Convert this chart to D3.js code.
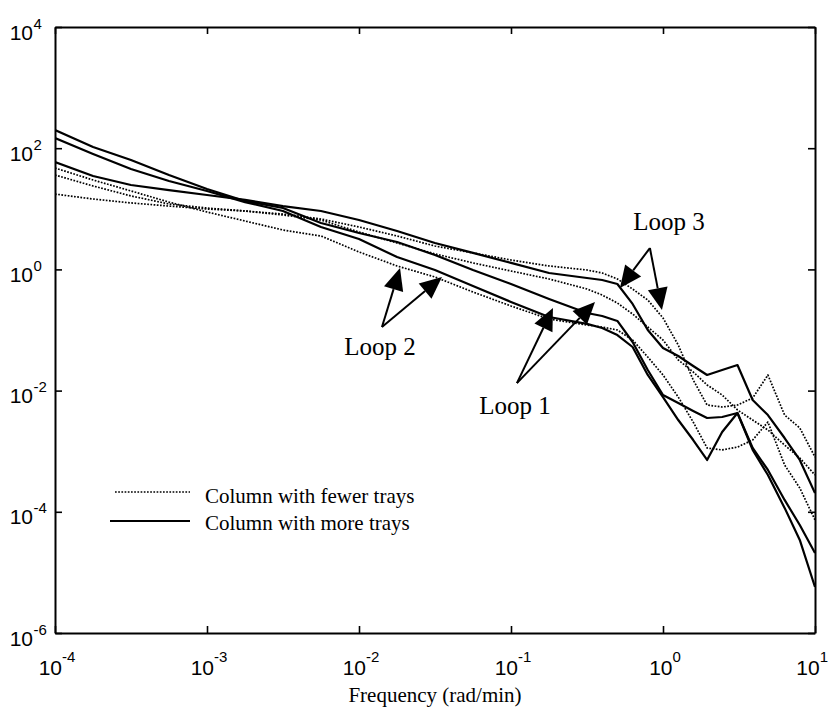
<!DOCTYPE html>
<html>
<head>
<meta charset="utf-8">
<script src="https://cdn.jsdelivr.net/npm/d3@7/dist/d3.min.js"></script>
<style>
  body { margin: 0; background: #fff; }
  svg { display: block; }
</style>
</head>
<body>
<svg id="chart" width="829" height="707"></svg>
<script>
// Frequency grid (rad/min) shared by all six spectra
const frequency = [1e-4, 1.78e-4, 3.16e-4, 5.62e-4, 1e-3, 1.78e-3, 3.16e-3, 5.62e-3,
  0.01, 0.0178, 0.0316, 0.0562, 0.1, 0.178, 0.316, 0.398, 0.501, 0.631, 0.794,
  1, 1.26, 1.58, 1.95, 2.45, 3.09, 3.89, 4.90, 6.31, 7.94, 10];

// Column with more trays (solid)
const loop1More = [200, 105, 64, 36.1, 21.2, 13.4, 10.3, 5.83, 3.99, 2.83, 1.73, 0.977,
  0.574, 0.325, 0.191, 0.170, 0.141, 0.0634, 0.0219, 0.00846, 0.00624, 0.00461,
  0.00353, 0.00367, 0.00427, 0.00113, 0.00049, 0.000157, 6.05e-5, 2.09e-5];
const loop2More = [147, 80.2, 45.4, 28.8, 19.7, 12.9, 9.20, 5.01, 3.18, 1.60, 0.977, 0.532,
  0.290, 0.164, 0.126, 0.108, 0.0826, 0.0524, 0.0181, 0.00783, 0.00327, 0.00153,
  0.000716, 0.00207, 0.00427, 0.00105, 0.000405, 0.000116, 3.43e-5, 5.74e-6];
const loop3More = [59.2, 34.8, 24.7, 20.4, 16.9, 14.0, 11.1, 9.20, 6.53, 4.30, 2.73, 1.87,
  1.28, 0.873, 0.721, 0.668, 0.574, 0.269, 0.100, 0.0505, 0.0372, 0.0255,
  0.0181, 0.0219, 0.0264, 0.00700, 0.00395, 0.00165, 0.000716, 0.000204];

// Column with fewer trays (dotted)
const loop1Fewer = [36.1, 23.8, 16.3, 12.0, 10.3, 9.20, 7.91, 6.53, 4.14, 2.73, 1.80, 1.28,
  0.941, 0.695, 0.475, 0.378, 0.279, 0.184, 0.112, 0.0684, 0.0320, 0.0203,
  0.0124, 0.00846, 0.00479, 0.00327, 0.00224, 0.00126, 0.000773, 0.000405];
const loop2Fewer = [47.1, 29.9, 19.7, 12.9, 8.85, 6.29, 4.47, 3.56, 1.94, 1.14, 0.750, 0.424,
  0.249, 0.152, 0.121, 0.112, 0.100, 0.0684, 0.0358, 0.0181, 0.00783, 0.00303,
  0.00113, 0.00105, 0.00117, 0.00153, 0.00303, 0.000592, 0.000247, 7.33e-5];
const loop3Fewer = [17.5, 14.5, 12.5, 11.1, 9.93, 9.20, 8.20, 6.79, 5.01, 3.56, 2.43, 1.87,
  1.43, 1.14, 0.977, 0.873, 0.695, 0.475, 0.313, 0.158, 0.0565, 0.0150,
  0.00578, 0.00536, 0.00578, 0.00755, 0.0181, 0.00395, 0.00242, 0.000802];

const xTickExponents = [-4, -3, -2, -1, 0, 1];
const yTickExponents = [4, 2, 0, -2, -4, -6];
const legendLabels = ["Column with fewer trays", "Column with more trays"];
const xAxisTitle = "Frequency (rad/min)";

// Loop call-outs: label anchor, arrow fan point, arrow tips (frequency, magnitude)
const loopNotes = [
  { label: "Loop 2", at: [0.01374, 0.0387], apex: [0.01416, 0.112],
    tips: [[0.01862, 1.05], [0.03516, 0.75]] },
  { label: "Loop 1", at: [0.1062, 0.00411], apex: [0.1094, 0.0133],
    tips: [[0.1888, 0.231], [0.357, 0.290]] },
  { label: "Loop 3", at: [1.094, 4.47], apex: [0.820, 2.25],
    tips: [[0.521, 0.493], [0.984, 0.214]] }
];

const series = [
  { values: loop3Fewer, style: "fewer" },
  { values: loop1Fewer, style: "fewer" },
  { values: loop2Fewer, style: "fewer" },
  { values: loop3More, style: "more" },
  { values: loop1More, style: "more" },
  { values: loop2More, style: "more" }
];

const W = 829, H = 707;
const plot = { left: 55, right: 815, top: 27, bottom: 633 };
const sansFont = "'Liberation Sans', Arial, Helvetica, sans-serif";
const serifFont = "'Liberation Serif', 'Times New Roman', Times, serif";

const svg = d3.select("#chart");
svg.append("rect").attr("width", W).attr("height", H).attr("fill", "#fff");

const x = d3.scaleLog().domain([1e-4, 10]).range([plot.left, plot.right]);
const y = d3.scaleLog().domain([1e-6, 1e4]).range([plot.bottom, plot.top]);

svg.append("clipPath").attr("id", "plot-clip")
  .append("rect")
  .attr("x", plot.left).attr("y", plot.top)
  .attr("width", plot.right - plot.left).attr("height", plot.bottom - plot.top);

// Spectra
const line = d3.line()
  .x((d, i) => x(frequency[i]))
  .y(d => y(d));

const curves = svg.append("g").attr("clip-path", "url(#plot-clip)");
curves.selectAll("path")
  .data(series)
  .join("path")
  .attr("d", d => line(d.values))
  .attr("fill", "none")
  .attr("stroke", "#000")
  .attr("stroke-linejoin", "round")
  .attr("stroke-width", d => d.style === "more" ? 2.2 : 1.7)
  .attr("stroke-dasharray", d => d.style === "more" ? null : "1.7,1.5");

// Axes: inward ticks on all four sides
const xTicks = xTickExponents.map(e => Math.pow(10, e));
const yTicks = yTickExponents.map(e => Math.pow(10, e));
const tickLen = 7;

function styleAxis(g) {
  g.selectAll(".domain").attr("stroke", "#000").attr("stroke-width", 2);
  g.selectAll(".tick line").attr("stroke", "#000").attr("stroke-width", 1.6);
  g.selectAll(".tick text").remove();
}

svg.append("g").attr("transform", `translate(0,${plot.bottom})`)
  .call(d3.axisBottom(x).tickValues(xTicks).tickSizeInner(-tickLen).tickSizeOuter(0).tickFormat(() => ""))
  .call(styleAxis);
svg.append("g").attr("transform", `translate(0,${plot.top})`)
  .call(d3.axisTop(x).tickValues(xTicks).tickSizeInner(-tickLen).tickSizeOuter(0).tickFormat(() => ""))
  .call(styleAxis);
svg.append("g").attr("transform", `translate(${plot.left},0)`)
  .call(d3.axisLeft(y).tickValues(yTicks).tickSizeInner(-tickLen).tickSizeOuter(0).tickFormat(() => ""))
  .call(styleAxis);
svg.append("g").attr("transform", `translate(${plot.right},0)`)
  .call(d3.axisRight(y).tickValues(yTicks).tickSizeInner(-tickLen).tickSizeOuter(0).tickFormat(() => ""))
  .call(styleAxis);

// Tick labels written as powers of ten
const xLabels = svg.append("g").attr("font-family", sansFont).attr("fill", "#000");
xTickExponents.forEach(e => {
  const t = xLabels.append("text")
    .attr("x", x(Math.pow(10, e)) + 2)
    .attr("y", plot.bottom + 42)
    .attr("text-anchor", "middle");
  t.append("tspan").attr("font-size", 21).text("10");
  t.append("tspan").attr("font-size", 15).attr("dy", -13).text(String(e));
  // keep the last label inside the page
  const box = t.node().getBBox();
  if (box.x + box.width > W - 1) {
    t.attr("text-anchor", "end").attr("x", W - 1);
  }
});

const yLabels = svg.append("g").attr("font-family", sansFont).attr("fill", "#000");
yTickExponents.forEach(e => {
  const ty = y(Math.pow(10, e));
  yLabels.append("text")
    .attr("x", 33).attr("y", ty + 12.5)
    .attr("text-anchor", "end").attr("font-size", 21).text("10");
  yLabels.append("text")
    .attr("x", 33.5).attr("y", ty + 1.5)
    .attr("text-anchor", "start").attr("font-size", 15).text(String(e));
});

// Axis title
svg.append("text")
  .attr("x", (plot.left + plot.right) / 2)
  .attr("y", 702)
  .attr("text-anchor", "middle")
  .attr("font-family", serifFont)
  .attr("font-size", 21)
  .text(xAxisTitle);

// Legend
const legend = svg.append("g");
const legendRows = [
  { y: 492, x0: 115, dash: "1.7,1.5", width: 1.7, textY: 503 },
  { y: 521, x0: 110, dash: null, width: 2.2, textY: 530 }
];
legendRows.forEach((r, i) => {
  legend.append("line")
    .attr("x1", r.x0).attr("x2", 190).attr("y1", r.y).attr("y2", r.y)
    .attr("stroke", "#000").attr("stroke-width", r.width)
    .attr("stroke-dasharray", r.dash);
  legend.append("text")
    .attr("x", 205).attr("y", r.textY)
    .attr("font-family", serifFont).attr("font-size", 21)
    .text(legendLabels[i]);
});

// Loop call-outs with filled arrowheads
const notes = svg.append("g");
const headLen = 22, headHalf = 10;
loopNotes.forEach(n => {
  const ax = x(n.apex[0]), ay = y(n.apex[1]);
  n.tips.forEach(tp => {
    const tx = x(tp[0]), ty = y(tp[1]);
    const dx = tx - ax, dy = ty - ay, len = Math.hypot(dx, dy);
    const ux = dx / len, uy = dy / len;
    const bx = tx - ux * headLen, by = ty - uy * headLen;
    notes.append("line")
      .attr("x1", ax).attr("y1", ay).attr("x2", bx).attr("y2", by)
      .attr("stroke", "#000").attr("stroke-width", 2);
    notes.append("polygon")
      .attr("points", [
        [tx, ty],
        [bx - uy * headHalf, by + ux * headHalf],
        [bx + uy * headHalf, by - ux * headHalf]
      ].map(p => p.join(",")).join(" "))
      .attr("fill", "#000");
  });
  notes.append("text")
    .attr("x", x(n.at[0])).attr("y", y(n.at[1]))
    .attr("text-anchor", "middle")
    .attr("font-family", serifFont).attr("font-size", 25)
    .text(n.label);
});
</script>
</body>
</html>
